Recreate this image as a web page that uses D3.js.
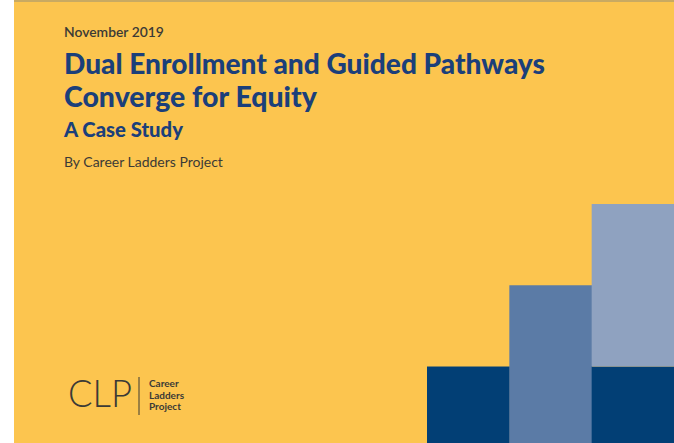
<!DOCTYPE html>
<html>
<head>
<meta charset="utf-8">
<script src="https://cdn.jsdelivr.net/npm/d3@7"></script>
<style>
  body { margin: 0; background: #fff; }
  svg { display: block; }
</style>
</head>
<body>
<div id="chart"></div>
<script>
// cover data
var columns = ["c1", "c2", "c3"];
var baseValues = [32, 66, 32];      // bottom block of each column
var topValues = [0, 0, 68];         // block stacked on top
var baseColors = ["#023f75", "#5b7ba6", "#023f75"];
var topColor = "#8fa2c0";

var headline = ["Dual Enrollment and Guided Pathways", "Converge for Equity"];
var dateLine = "November 2019";
var subTitle = "A Case Study";
var byLine = "By Career Ladders Project";
var logoWords = ["Career", "Ladders", "Project"];

var W = 674, H = 443;
var svg = d3.select("#chart").append("svg")
    .attr("width", W).attr("height", H);

// page
svg.append("rect").attr("x", 14).attr("y", 0).attr("width", W - 14).attr("height", H)
    .attr("fill", "#fcc54f");
svg.append("rect").attr("x", 14).attr("y", 0).attr("width", W - 14).attr("height", 2)
    .attr("fill", "#c9aa62");

var x = d3.scaleBand().domain(columns).range([427, W]).padding(0);
var y = d3.scaleLinear().domain([0, 100]).range([H, 204]);

var g = svg.append("g");
g.selectAll("rect.base")
    .data(columns)
    .enter()
    .append("rect")
    .attr("class", "base")
    .attr("x", function(d){return x(d)})
    .attr("width", x.bandwidth() + 0.5)
    .attr("y", function(d, i){return y(baseValues[i])})
    .attr("height", function(d, i){return H - y(baseValues[i])})
    .attr("fill", function(d, i){return baseColors[i]});

g.selectAll("rect.top")
    .data(columns)
    .enter()
    .append("rect")
    .attr("class", "top")
    .attr("x", function(d){return x(d)})
    .attr("width", x.bandwidth() + 0.5)
    .attr("y", function(d, i){return y(baseValues[i] + topValues[i])})
    .attr("height", function(d, i){return y(baseValues[i]) - y(baseValues[i] + topValues[i])})
    .attr("fill", topColor);

// text, sized to fit measured widths
function fitText(str, xPos, yPos, targetW, size, weight, color, family){
    var t = svg.append("text")
        .attr("x", xPos).attr("y", yPos)
        .attr("font-family", family || "Lato, 'Noto Sans', sans-serif")
        .attr("font-weight", weight)
        .attr("font-size", size)
        .attr("fill", color)
        .text(str);
    if(targetW){
        var w = t.node().getComputedTextLength();
        t.attr("font-size", size * targetW / w);
    }
    return t;
}

fitText(dateLine, 64, 37, 100, 12, 600, "#3b3a36");
fitText(headline[0], 64, 74, 481, 27, 900, "#1b3f7a");
fitText(headline[1], 64, 107, 253, 27, 900, "#1b3f7a");
fitText(subTitle, 64, 137, 119, 18, 900, "#1b3f7a");
fitText(byLine, 64, 167, 159, 12, 400, "#3b3a36");

// logo
fitText("CLP", 68, 407, 64, 34, 300, "#3b3a36");
svg.append("line").attr("x1", 139).attr("x2", 139).attr("y1", 377).attr("y2", 415)
    .attr("stroke", "#3b3a36").attr("stroke-width", 1);
logoWords.forEach(function(w, i){
    svg.append("text")
        .attr("x", 149).attr("y", 387 + i * 11.5)
        .attr("font-family", "Lato, 'Noto Sans', sans-serif")
        .attr("font-weight", 700)
        .attr("font-size", 10)
        .attr("fill", "#3b3a36")
        .text(w);
});
</script>
</body>
</html>
